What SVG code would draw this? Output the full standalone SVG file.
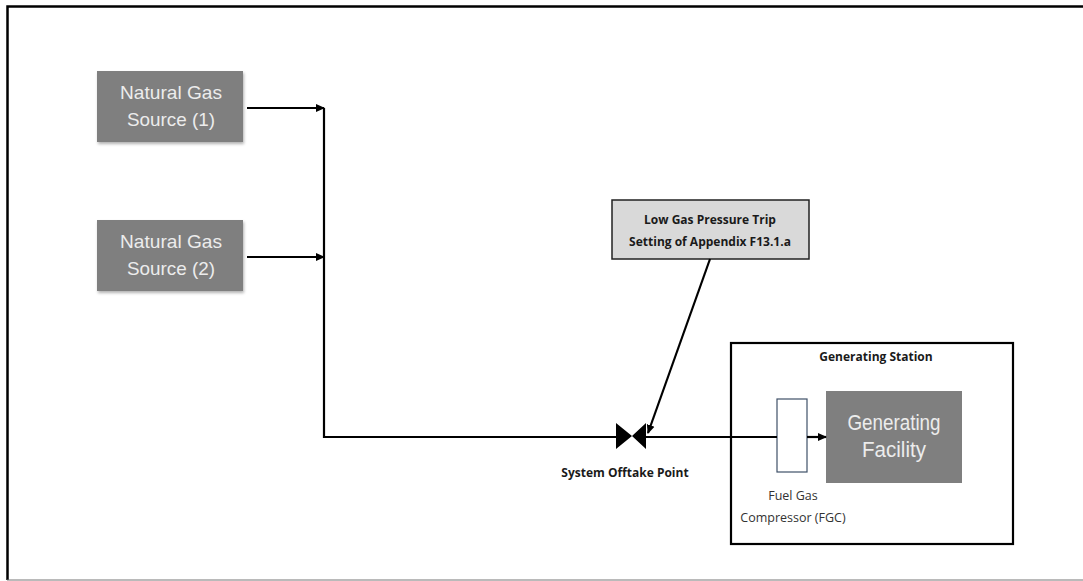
<svg xmlns="http://www.w3.org/2000/svg" width="1083" height="581" viewBox="0 0 1083 581">
<defs>
<style>
.src{fill:#7f7f7f}
.srct{font-family:"Liberation Sans",Arial,sans-serif;font-size:19px;fill:#ececec;text-anchor:middle}
.lbl{font-family:"Open Sans","Liberation Sans",sans-serif;font-weight:bold;font-size:12px;fill:#1a1a1a;text-anchor:middle}
.reg{font-family:"Open Sans","Liberation Sans",sans-serif;font-size:12.5px;fill:#333;text-anchor:middle}
.ln{stroke:#000;stroke-width:2.2;fill:none}
</style>
<marker id="ah" markerWidth="10" markerHeight="10" refX="8" refY="5" orient="auto" markerUnits="userSpaceOnUse">
<path d="M0,1 L9,5 L0,9 Z" fill="#000"/>
</marker>
<filter id="sh" x="-10%" y="-10%" width="125%" height="130%">
<feDropShadow dx="1" dy="2" stdDeviation="1.5" flood-color="#000" flood-opacity="0.3"/>
</filter>
</defs>
<rect width="1083" height="581" fill="#fff"/>
<path d="M1083,6.5 H7.5 V580" fill="none" stroke="#000" stroke-width="2.5"/>
<line x1="7" y1="580" x2="1083" y2="580" stroke="#777" stroke-width="1.2"/>

<g id="source1">
<rect class="src" x="97" y="71" width="146" height="71" filter="url(#sh)"/>
<text class="srct" x="171" y="99" textLength="102" lengthAdjust="spacingAndGlyphs">Natural Gas</text>
<text class="srct" x="171" y="126" textLength="88" lengthAdjust="spacingAndGlyphs">Source (1)</text>
</g>
<g id="source2">
<rect class="src" x="97" y="220" width="146" height="71" filter="url(#sh)"/>
<text class="srct" x="171" y="248" textLength="102" lengthAdjust="spacingAndGlyphs">Natural Gas</text>
<text class="srct" x="171" y="275" textLength="88" lengthAdjust="spacingAndGlyphs">Source (2)</text>
</g>

<g id="trip">
<rect x="612" y="200" width="197" height="59" fill="#d9d9d9" stroke="#222" stroke-width="1.5"/>
<text class="lbl" x="710" y="224">Low Gas Pressure Trip</text>
<text class="lbl" x="710" y="246">Setting of Appendix F13.1.a</text>
</g>

<g id="valve">
<path d="M616,423 L632,436 L616,449 Z M646,423 L632,436 L646,449 Z" fill="#000"/>
<text class="lbl" x="625" y="477">System Offtake Point</text>
</g>

<g id="station">
<rect x="731" y="343" width="282" height="201" fill="none" stroke="#000" stroke-width="2.2"/>
<text class="lbl" x="876" y="361">Generating Station</text>
</g>

<g id="fgc">
<rect x="777" y="399" width="30" height="73" fill="#fff" stroke="#3f5068" stroke-width="1.2"/>
<text class="reg" x="793" y="500">Fuel Gas</text>
<text class="reg" x="793" y="522">Compressor (FGC)</text>
</g>

<g id="facility">
<rect x="826" y="391" width="136" height="92" fill="#7f7f7f"/>
<text class="srct" x="894" y="430" style="font-size:22px" textLength="93" lengthAdjust="spacingAndGlyphs">Generating</text>
<text class="srct" x="894" y="457" style="font-size:22px" textLength="64" lengthAdjust="spacingAndGlyphs">Facility</text>
</g>

<g id="connectors">
<line class="ln" x1="247" y1="108" x2="324" y2="108" marker-end="url(#ah)"/>
<line class="ln" x1="247" y1="257" x2="324" y2="257" marker-end="url(#ah)"/>
<polyline class="ln" points="324,108 324,437 616,437"/>
<line class="ln" x1="646" y1="437" x2="777" y2="437"/>
<line class="ln" x1="807" y1="437" x2="826" y2="437" marker-end="url(#ah)"/>
<line class="ln" x1="710" y1="259" x2="648" y2="433" marker-end="url(#ah)"/>
</g>
</svg>
